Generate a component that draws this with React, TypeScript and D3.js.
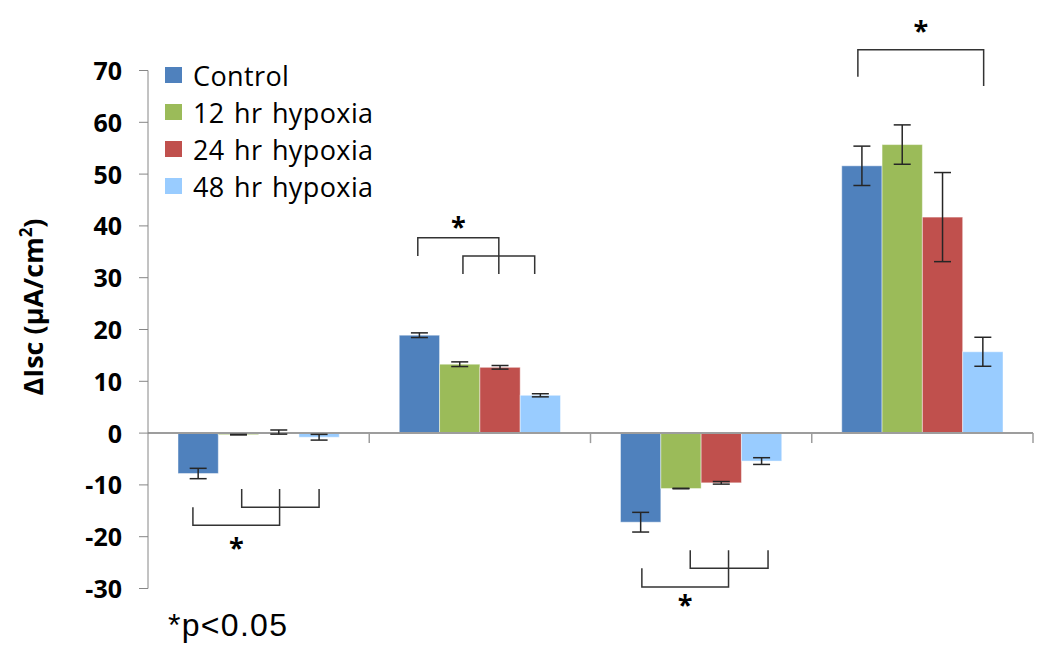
import React from "react";
import * as d3 from "d3";

const categories = ["Condition A", "Condition B", "Condition C", "Condition D"];
const seriesNames = ["Control", "12 hr hypoxia", "24 hr hypoxia", "48 hr hypoxia"];
const controlValues = [-7.8, 18.9, -17.2, 51.6];
const hypoxia12Values = [-0.3, 13.3, -10.7, 55.7];
const hypoxia24Values = [0.2, 12.7, -9.6, 41.7];
const hypoxia48Values = [-0.8, 7.3, -5.4, 15.7];
const controlErrors = [1.0, 0.45, 1.9, 3.8];
const hypoxia12Errors = [0.05, 0.45, 0.05, 3.8];
const hypoxia24Errors = [0.4, 0.35, 0.25, 8.6];
const hypoxia48Errors = [0.55, 0.3, 0.65, 2.8];
const yTicks = [-30, -20, -10, 0, 10, 20, 30, 40, 50, 60, 70];

// significance brackets: category, series positions (index units), bar level, end levels
const bracketCategory = [0, 0, 1, 1, 2, 2, 3];
const bracketFrom = [-0.13, 1.08, -0.04, 1.08, 0.03, 1.23, -0.1];
const bracketTo = [2.02, 3.0, 1.97, 2.86, 2.18, 3.16, 3.02];
const bracketLevel = [-17.8, -14.3, 37.7, 34.2, -29.7, -26.1, 74.0];
const bracketFromEnd = [-14.3, -10.8, 34.2, 30.7, -26.1, -22.6, 68.8];
const bracketToEnd = [-10.8, -10.8, 30.7, 30.7, -22.6, -22.6, 67.0];
const starBracket = [0, 2, 4, 6];
const starLevel = [-21.0, 41.0, -32.0, 78.8];

const colors = ["#4F81BD", "#9BBB59", "#C0504D", "#99CCFF"];

export default function App() {
  const W = 1050, H = 657;
  const values = [controlValues, hypoxia12Values, hypoxia24Values, hypoxia48Values];
  const errors = [controlErrors, hypoxia12Errors, hypoxia24Errors, hypoxia48Errors];

  const y = d3.scaleLinear().domain([-30, 70]).range([588.5, 70.5]);
  const x0 = d3.scaleBand<string>().domain(categories).range([148, 1033]).paddingInner(0).paddingOuter(0);
  const bw0 = x0.bandwidth();
  const x1 = d3.scaleBand<string>().domain(seriesNames).range([bw0 * 0.1356, bw0 * 0.8644]);
  const bw = x1.bandwidth();
  const seriesPos = (ci: number, s: number) =>
    (x0(categories[ci]) as number) + x1.range()[0] + (s + 0.5) * bw;

  const y0 = y(0);
  const tickFont = "'Open Sans', sans-serif";

  return (
    <svg width={W} height={H} style={{ position: "absolute", left: 0, top: 0, background: "#fff" }}>
      {/* bars */}
      {categories.map((c, ci) =>
        seriesNames.map((s, si) => {
          const v = values[si][ci];
          const xx = (x0(c) as number) + (x1(s) as number);
          return (
            <rect
              key={c + s}
              x={xx}
              y={Math.min(y(v), y0)}
              width={bw}
              height={Math.abs(y(v) - y0)}
              fill={colors[si]}
              stroke="rgba(255,255,255,0.45)"
              strokeWidth={1}
            />
          );
        })
      )}
      {/* zero line and category ticks */}
      <line x1={148} x2={1033} y1={y0} y2={y0} stroke="#9d9d9d" strokeWidth={2} />
      {categories.map((c, ci) => {
        const xx = (x0(c) as number) + bw0;
        return <line key={"ct" + ci} x1={xx} x2={xx} y1={y0} y2={y0 + 10} stroke="#9d9d9d" strokeWidth={1.5} />;
      })}
      {/* error bars */}
      {categories.map((c, ci) =>
        seriesNames.map((s, si) => {
          const v = values[si][ci];
          const e = errors[si][ci];
          const cx = (x0(c) as number) + (x1(s) as number) + bw / 2;
          const hi = y(v + e), lo = y(v - e);
          return (
            <g key={"e" + c + s} stroke="#262626" strokeWidth={1.5}>
              <line x1={cx} x2={cx} y1={hi} y2={lo} />
              <line x1={cx - 8.5} x2={cx + 8.5} y1={hi} y2={hi} />
              <line x1={cx - 8.5} x2={cx + 8.5} y1={lo} y2={lo} />
            </g>
          );
        })
      )}
      {/* y axis */}
      <line x1={148} x2={148} y1={y(70)} y2={y(-30)} stroke="#868686" strokeWidth={1} />
      {yTicks.map((t) => (
        <g key={"yt" + t}>
          <line x1={139} x2={148} y1={y(t)} y2={y(t)} stroke="#868686" strokeWidth={1} />
          <text x={122} y={y(t) + 9.5} textAnchor="end" fontFamily={tickFont} fontWeight={700} fontSize={25} fill="#000">
            {t}
          </text>
        </g>
      ))}
      {/* y title */}
      <text
        transform={`translate(43,307) rotate(-90)`}
        textAnchor="middle"
        fontFamily={tickFont}
        fontWeight={700}
        fontSize={27}
        fill="#000"
      >
        ΔIsc (μA/cm<tspan fontSize={17} dy={-11}>2</tspan><tspan dy={11}>)</tspan>
      </text>
      {/* brackets */}
      {bracketCategory.map((ci, bi) => {
        const xa = seriesPos(ci, bracketFrom[bi]);
        const xb = seriesPos(ci, bracketTo[bi]);
        const yl = y(bracketLevel[bi]);
        return (
          <path
            key={"b" + bi}
            d={`M${xa},${y(bracketFromEnd[bi])}V${yl}H${xb}V${y(bracketToEnd[bi])}`}
            fill="none"
            stroke="#333"
            strokeWidth={1.5}
          />
        );
      })}
      {starBracket.map((bi, k) => {
        const ci = bracketCategory[bi];
        const cx = (seriesPos(ci, bracketFrom[bi]) + seriesPos(ci, bracketTo[bi])) / 2;
        return (
          <text key={"s" + k} x={cx} y={y(starLevel[k]) + 15} textAnchor="middle" fontFamily={tickFont} fontWeight={700} fontSize={27} fill="#000">
            *
          </text>
        );
      })}
      {/* legend */}
      {seriesNames.map((s, si) => (
        <g key={"lg" + s} transform={`translate(165,${75 + si * 37})`}>
          <rect x={0} y={-8} width={17} height={16} fill={colors[si]} />
          <text x={28} y={10.5} fontFamily={tickFont} fontSize={27} letterSpacing={0.4} wordSpacing={2} fill="#000">
            {s}
          </text>
        </g>
      ))}
      {/* footnote */}
      <text x={168} y={636} fontFamily="'Liberation Sans', Arial, sans-serif" fontSize={32} letterSpacing={1.3} fill="#000">
        *p&lt;0.05
      </text>
    </svg>
  );
}
